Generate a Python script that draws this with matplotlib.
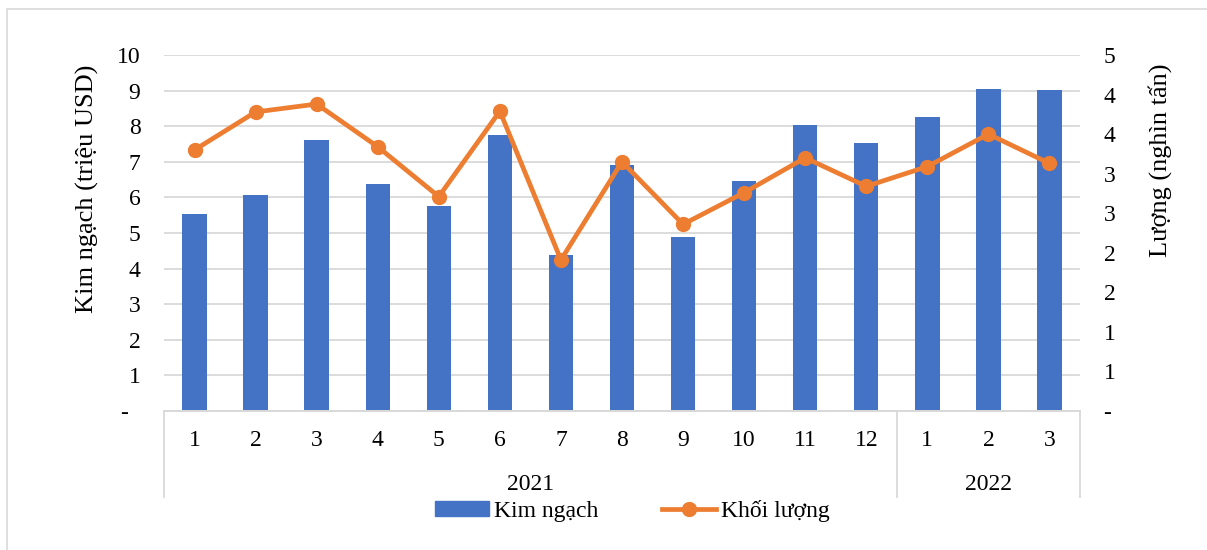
import numpy as np
import matplotlib
matplotlib.use("Agg")
import matplotlib.pyplot as plt
from matplotlib.patches import Rectangle
from matplotlib.lines import Line2D
from matplotlib.transforms import blended_transform_factory

# Monthly export value (million USD) and volume (thousand tonnes)
months = ["1", "2", "3", "4", "5", "6", "7", "8", "9", "10", "11", "12", "1", "2", "3"]
years = ["2021", "2022"]
year_sizes = [12, 3]
kim_ngach = [5.52, 6.07, 7.61, 6.37, 5.77, 7.75, 4.38, 6.90, 4.88, 6.47, 8.03, 7.54, 8.26, 9.04, 9.01]
khoi_luong = [3.30, 3.78, 3.88, 3.34, 2.71, 3.79, 1.91, 3.15, 2.36, 2.76, 3.20, 2.84, 3.09, 3.50, 3.13]

BAR = "#4472C4"
LINE = "#ED7D31"
GRID = "#D9D9D9"
FONT = "Liberation Serif"
FS = 17

plt.rcParams["font.family"] = [FONT, "DejaVu Serif"]

W, H = 1207, 550
fig = plt.figure(figsize=(W / 100, H / 100), dpi=100)

# outer chart border
fig.patches.append(Rectangle((7 / W, -0.1), 1.2, 1 - 9 / H + 0.1, transform=fig.transFigure,
                             fill=False, edgecolor=GRID, linewidth=1.2))

left, right, top, bottom = 164, 1080, 55, 411
ax = fig.add_axes([left / W, 1 - bottom / H, (right - left) / W, (bottom - top) / H])
ax2 = ax.twinx()

x = np.arange(len(months))
ax.bar(x, kim_ngach, width=0.4, color=BAR, zorder=2)
ax2.plot(x, khoi_luong, color=LINE, linewidth=3.4, marker="o", markersize=10,
         zorder=3, solid_joinstyle="round")

ax.set_xlim(-0.5, len(months) - 0.5)
ax.set_ylim(0, 10)
ax2.set_ylim(0, 4.5)

ax.set_yticks(np.arange(0, 11, 1))
ax.set_yticklabels(["-  " if v == 0 else str(v) for v in range(0, 11)])
r_ticks = np.arange(0, 4.51, 0.5)
ax2.set_yticks(r_ticks)
ax2.set_yticklabels(["-" if v == 0 else str(int(np.floor(v + 0.5))) for v in r_ticks])

ax.grid(axis="y", color=GRID, linewidth=1.3, zorder=0)
ax.set_axisbelow(True)
ax.set_xticks([])

for a in (ax, ax2):
    for s in ("top", "left", "right"):
        a.spines[s].set_visible(False)
    a.spines["bottom"].set_color(GRID)
    a.spines["bottom"].set_linewidth(1.3)
    a.tick_params(axis="y", length=0, labelsize=FS, labelcolor="#000000", pad=17)

# two-level category axis
trans = blended_transform_factory(ax.transData, ax.transAxes)
ah = bottom - top
for xi, m in zip(x, months):
    ax.text(xi, -29 / ah, m, transform=trans, ha="center", va="center", fontsize=FS)
start = 0
bounds = [-0.5]
for yr, n in zip(years, year_sizes):
    ax.text(start + (n - 1) / 2, -74 / ah, yr, transform=trans, ha="center", va="center", fontsize=FS)
    start += n
    bounds.append(start - 0.5)
for b in bounds:
    ax.plot([b, b], [0, -86 / ah], transform=trans, color=GRID, linewidth=1.3, clip_on=False)

fig.text(87 / W, 1 - 189 / H, "Kim ngạch (triệu USD)", rotation=90, ha="center", va="center", fontsize=19)
fig.text(1160 / W, 1 - 160 / H, "Lượng (nghìn tấn)", rotation=90, ha="center", va="center", fontsize=19)

handles = [Rectangle((0, 0), 1, 1, color=BAR),
           Line2D([0], [0], color=LINE, linewidth=3.4, marker="o", markersize=10)]
fig.legend(handles, ["Kim ngạch", "Khối lượng"], loc="center", bbox_to_anchor=(632 / W, 1 - 511 / H),
           ncol=2, frameon=False, fontsize=FS, handlelength=2.3, handleheight=0.6,
           columnspacing=2.7, handletextpad=0.2)

fig.savefig("out.png", dpi=100)
